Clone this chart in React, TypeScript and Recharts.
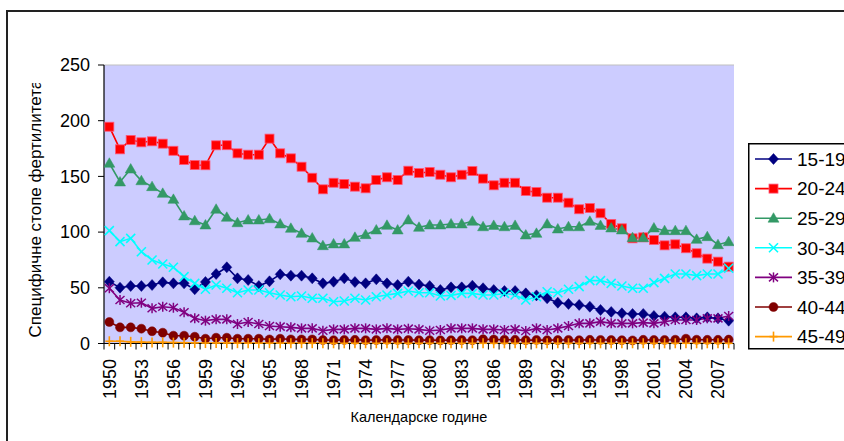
import React from 'react';
import { LineChart, Line, XAxis, YAxis, CartesianGrid, Legend } from 'recharts';

const years = [
  1950, 1951, 1952, 1953, 1954, 1955, 1956, 1957, 1958, 1959,
  1960, 1961, 1962, 1963, 1964, 1965, 1966, 1967, 1968, 1969,
  1970, 1971, 1972, 1973, 1974, 1975, 1976, 1977, 1978, 1979,
  1980, 1981, 1982, 1983, 1984, 1985, 1986, 1987, 1988, 1989,
  1990, 1991, 1992, 1993, 1994, 1995, 1996, 1997, 1998, 1999,
  2000, 2001, 2002, 2003, 2004, 2005, 2006, 2007, 2008,
];

const yTicks = [0, 50, 100, 150, 200, 250];

const s1519 = [
  55.5, 50.1, 51.6, 51.6, 52.5, 54.9, 54, 54, 48.7, 55.2,
  62.4, 68.4, 58.5, 57, 51.6, 55.8, 62.1, 60.9, 60.9, 58.5,
  54, 55.5, 58.5, 55.2, 54, 57.6, 54, 52.5, 55.5, 53,
  51.6, 48, 50.4, 50.4, 51.9, 49.6, 48, 47.1, 47.1, 45,
  43.2, 40.6, 36.6, 35.5, 34.6, 33, 30.1, 28.3, 27.1, 26.5,
  26.5, 24.7, 24.1, 23.5, 23.5, 22.6, 23.5, 22.6, 20.5,
];
const s2024 = [
  194.6, 174.3, 182.7, 180.6, 181.5, 179.4, 173, 164.7, 160.2, 160,
  177.9, 178, 170.7, 169.5, 169.5, 183.9, 170.7, 166.2, 158.7, 148.8,
  138.4, 144.3, 143.2, 140.8, 139.3, 146.8, 149.2, 146.8, 155.1, 153,
  154, 151.5, 149.2, 151.5, 154.8, 148, 142, 144.3, 144.3, 136.9,
  136, 130.9, 130.9, 126.4, 120.5, 121.6, 116.9, 107.3, 103.4, 94.4,
  95.3, 92.9, 88.1, 89, 85.5, 81, 76.2, 73.5, 69,
];
const s2529 = [
  161.8, 145, 156.6, 146.1, 140.8, 134.8, 129.4, 114.5, 110.2, 106.4,
  120.5, 113.3, 108.4, 110.9, 110.9, 112, 107.3, 103.4, 98.9, 94.7,
  87.8, 89.4, 89.4, 95.3, 97.7, 101.9, 106.1, 101.9, 110.9, 104.3,
  106.4, 106.4, 107.3, 107.3, 109.7, 104.8, 106, 104.8, 106, 97.4,
  98.9, 107.3, 102.8, 104.8, 104.8, 109.7, 106, 103.7, 101.9, 95,
  95, 103.7, 101.3, 101.3, 101.3, 93.5, 95.9, 88.7, 91.4,
];
const s3034 = [
  101.3, 91.4, 94.4, 82.4, 75, 71.4, 68.4, 60, 54, 48.7,
  52.5, 49.6, 45.6, 48, 48, 45.6, 43.5, 42, 42.6, 40.6,
  40.6, 37.5, 38.1, 40.6, 39, 42, 43.5, 45, 47.1, 45.6,
  45.6, 42.6, 43.2, 45, 45, 43.5, 43.5, 45, 43.5, 39,
  42, 46.5, 45.6, 48.7, 51, 56.4, 56.4, 54, 51.6, 49.6,
  49.6, 54.6, 58.5, 62.4, 62.4, 60.9, 62.4, 62.4, 67.5,
];
const s3539 = [
  49.6, 39, 36.1, 36.6, 31.6, 33, 32.1, 28, 22.6, 20.5,
  21.7, 21.7, 17.5, 19.3, 17.5, 15.7, 15.1, 14.5, 13.6, 13.6,
  11.5, 12.7, 12.7, 13.6, 13.6, 12.7, 13.6, 12.7, 13.3, 12.7,
  11.5, 12.1, 13.6, 13.6, 13.6, 12.7, 12.7, 12.1, 12.7, 11.2,
  13.6, 12.1, 13.6, 15.7, 18.1, 18.1, 19.6, 18.1, 18.1, 18.1,
  18.7, 18.1, 19.6, 21.1, 21.1, 21.1, 22.6, 22.6, 24.7,
];
const s4044 = [
  19.3, 14.5, 14.5, 13.3, 11, 9.7, 7, 7, 6.1, 4.3,
  5.2, 5.2, 4.3, 4.3, 4.3, 3.7, 4.3, 3.7, 3.7, 3.7,
  3.1, 3.0, 3.2, 3.3, 3.0, 3.1, 3.3, 3.2, 3.1, 3.0,
  3.0, 2.9, 3.0, 3.1, 3.0, 3.8, 3.6, 3.4, 3.3, 3.0,
  3.2, 3.0, 3.1, 3.2, 3.0, 3.3, 3.2, 3.1, 3.0, 2.8,
  3.3, 3.2, 3.2, 3.4, 4.3, 3.4, 3.3, 3.3, 3.5,
];
const s4549 = [
  2, 2, 1.5, 1.2, 1, 1, 0.8, 0.7, 0.5, 0.4,
  0.4, 0.4, 0.3, 0.3, 0.3, 0.3, 0.3, 0.3, 0.3, 0.3,
  0.3, 0.2, 0.2, 0.2, 0.2, 0.2, 0.2, 0.2, 0.2, 0.2,
  0.2, 0.2, 0.2, 0.2, 0.2, 0.2, 0.2, 0.2, 0.2, 0.2,
  0.2, 0.2, 0.2, 0.2, 0.2, 0.2, 0.2, 0.2, 0.2, 0.2,
  0.2, 0.2, 0.2, 0.2, 0.2, 0.2, 0.2, 0.2, 0.2,
];

const seriesNames = ['15-19', '20-24', '25-29', '30-34', '35-39', '40-44', '45-49'];
const seriesValues = [s1519, s2024, s2529, s3034, s3539, s4044, s4549];
const seriesColors = ['#000080', '#FF0000', '#339966', '#00FFFF', '#800080', '#800000', '#FF9900'];
const seriesMarkers = ['diamond', 'square', 'triangle', 'x', 'star', 'circle', 'plus'];

const yTitle = 'Специфичне стопе фертилитета';
const xTitle = 'Календарске године';

const FONT = '"Liberation Sans", Arial, sans-serif';
const W = 844;
const H = 441;
const M = { top: 65, right: 110, left: 44, bottom: 37.5 };
const Y_AXIS_W = 60;
const X_AXIS_H = 60;
const PLOT_W = W - M.left - Y_AXIS_W - M.right;
const HALF = PLOT_W / years.length / 2;

const boundaryTicks = [...years.map((y) => y - 0.5), years[years.length - 1] + 0.5];

const data = years.map((year, i) => {
  const row: Record<string, number> = { year };
  seriesNames.forEach((n, k) => {
    row[n] = seriesValues[k][i];
  });
  return row;
});

function Marker({ kind, cx, cy, color }: { kind: string; cx: number; cy: number; color: string }) {
  if (cx == null || cy == null) return <g />;
  switch (kind) {
    case 'diamond':
      return <polygon points={`${cx},${cy - 5.5} ${cx + 5},${cy} ${cx},${cy + 5.5} ${cx - 5},${cy}`} fill={color} stroke={color} strokeWidth={0.5} />;
    case 'square':
      return <rect x={cx - 4.5} y={cy - 4.5} width={9} height={9} fill={color} stroke="#FF5577" strokeWidth={0.8} />;
    case 'triangle':
      return <polygon points={`${cx},${cy - 5.5} ${cx + 5.5},${cy + 4} ${cx - 5.5},${cy + 4}`} fill={color} stroke={color} strokeWidth={0.5} />;
    case 'x':
      return (
        <g stroke={color} strokeWidth={1.6}>
          <line x1={cx - 4.5} y1={cy - 4.5} x2={cx + 4.5} y2={cy + 4.5} />
          <line x1={cx - 4.5} y1={cy + 4.5} x2={cx + 4.5} y2={cy - 4.5} />
        </g>
      );
    case 'star':
      return (
        <g stroke={color} strokeWidth={1.5}>
          <line x1={cx - 4.5} y1={cy - 4} x2={cx + 4.5} y2={cy + 4} />
          <line x1={cx - 4.5} y1={cy + 4} x2={cx + 4.5} y2={cy - 4} />
          <line x1={cx} y1={cy - 5} x2={cx} y2={cy + 5} />
        </g>
      );
    case 'circle':
      return <circle cx={cx} cy={cy} r={4.5} fill={color} stroke={color} strokeWidth={0.5} />;
    case 'plus':
      return (
        <g stroke={color} strokeWidth={1.6}>
          <line x1={cx} y1={cy - 5} x2={cx} y2={cy + 5} />
          <line x1={cx - 4} y1={cy} x2={cx + 4} y2={cy} />
        </g>
      );
    default:
      return <g />;
  }
}

const XTick = (props: any) => {
  const { x, y, payload } = props;
  const year = Math.round(payload.value + 0.5);
  if (year > years[years.length - 1] || (year - years[0]) % 3 !== 0) return <g />;
  return (
    <text
      transform={`translate(${x + HALF + 6.5}, ${y + 7.5}) rotate(-90)`}
      textAnchor="end"
      fontSize={18}
      fill="#000"
      fontFamily={FONT}
    >
      {year}
    </text>
  );
};

const YLabel = () => (
  <g>
    <defs>
      <clipPath id="ylabel-clip">
        <rect x={0} y={83} width={90} height={300} />
      </clipPath>
    </defs>
    <g clipPath="url(#ylabel-clip)">
      <text
        transform="translate(41, 337.5) rotate(-90)"
        textAnchor="start"
        fontSize={17}
        fill="#000"
        fontFamily={FONT}
      >
        {yTitle}
      </text>
    </g>
  </g>
);

const XLabel = () => (
  <text x={419} y={421.5} textAnchor="middle" fontSize={14.5} fill="#000" fontFamily={FONT}>
    {xTitle}
  </text>
);

const LegendBox = () => {
  const rowY0 = 16;
  const rowStep = 29.6;
  return (
    <svg width={130} height={208} style={{ display: 'block', overflow: 'visible' }}>
      <rect x={0.75} y={0.75} width={140} height={205} fill="#fff" stroke="#000" strokeWidth={1.5} />
      {seriesNames.map((n, k) => {
        const cy = rowY0 + rowStep * k;
        return (
          <g key={n}>
            <line x1={7} y1={cy} x2={44} y2={cy} stroke={seriesColors[k]} strokeWidth={1.6} />
            <Marker kind={seriesMarkers[k]} cx={25.5} cy={cy} color={seriesColors[k]} />
            <text x={49} y={cy} dy="0.36em" fontSize={19} fill="#000" fontFamily={FONT}>
              {n}
            </text>
          </g>
        );
      })}
    </svg>
  );
};

export default function App() {
  return (
    <div style={{ position: 'absolute', left: 0, top: 0, width: W, height: H, overflow: 'hidden', background: '#fff' }}>
      <div
        style={{
          position: 'absolute',
          left: 6,
          top: 10,
          width: 900,
          height: 500,
          border: '2px solid #222',
          boxSizing: 'border-box',
        }}
      />
      <div style={{ position: 'absolute', left: 0, top: 0 }}>
        <LineChart width={W} height={H} data={data} margin={M} style={{ fontFamily: FONT }}>
          <CartesianGrid vertical={false} stroke="#C0C0C0" strokeWidth={1.2} fill="#CCCCFF" />
          <XAxis
            dataKey="year"
            type="number"
            domain={[boundaryTicks[0], boundaryTicks[boundaryTicks.length - 1]]}
            ticks={boundaryTicks}
            interval={0}
            height={X_AXIS_H}
            tick={<XTick />}
            tickSize={6}
            axisLine={{ stroke: '#000', strokeWidth: 1.2 }}
            tickLine={{ stroke: '#000', strokeWidth: 1 }}
            label={XLabel}
            allowDataOverflow
          />
          <YAxis
            yAxisId="left"
            domain={[0, 250]}
            ticks={yTicks}
            width={Y_AXIS_W}
            tickSize={6}
            tickMargin={8}
            tick={{ fontSize: 18, fill: '#000', fontFamily: FONT }}
            axisLine={{ stroke: '#000', strokeWidth: 1.2 }}
            tickLine={{ stroke: '#000', strokeWidth: 1 }}
            label={YLabel}
          />
          <YAxis
            yAxisId="right"
            orientation="right"
            width={0}
            domain={[0, 250]}
            tick={false}
            tickLine={false}
            axisLine={{ stroke: '#C0C0C0', strokeWidth: 1.2 }}
          />
          {seriesNames.map((n, k) => (
            <Line
              key={n}
              yAxisId="left"
              type="linear"
              dataKey={n}
              name={n}
              stroke={seriesColors[k]}
              strokeWidth={1.6}
              isAnimationActive={false}
              dot={(p: any) => (
                <Marker key={`${n}-${p.index}`} kind={seriesMarkers[k]} cx={p.cx} cy={p.cy} color={seriesColors[k]} />
              )}
              activeDot={false}
            />
          ))}
          <Legend
            layout="vertical"
            align="center"
            verticalAlign="middle"
            content={<LegendBox />}
            wrapperStyle={{ position: 'absolute', left: 748, top: 143, width: 130, height: 208 }}
          />
        </LineChart>
      </div>
    </div>
  );
}
